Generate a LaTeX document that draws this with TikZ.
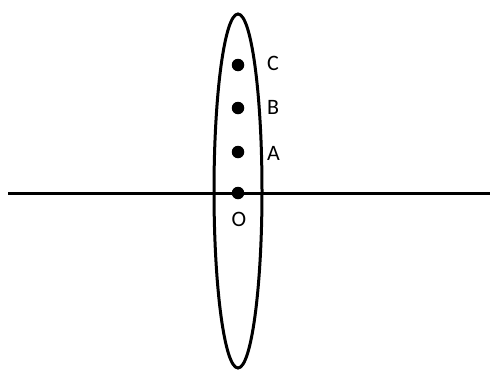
\documentclass[tikz,border=0pt]{standalone}
\usepackage{fontspec}
\setmainfont{Carlito}
\usetikzlibrary{shapes.geometric}
\begin{document}
\begin{tikzpicture}[x=1pt,y=-1pt,
  dot/.style={circle,fill=black,inner sep=0pt,minimum size=12.5pt},
  lbl/.style={font=\fontsize{22}{22}\selectfont,inner sep=0pt}]
\useasboundingbox (0,0) rectangle (490,370);
\node[draw,ellipse,line width=3pt,minimum width=48pt,minimum height=354pt,inner sep=0pt] (lens) at (238,191) {};
\coordinate (L) at (8,193);
\coordinate (R) at (490,193);
\draw[line width=3pt] (L) -- (R);
\node[dot] (C) at (238,65) {};
\node[dot] (B) at (238,108) {};
\node[dot] (A) at (238,152) {};
\node[dot] (O) at (238,193) {};
\node[lbl,anchor=west] (lc) at (267,63) {C};
\node[lbl,anchor=west] (lb) at (267,107) {B};
\node[lbl,anchor=west] (la) at (267,153) {A};
\node[lbl] (lo) at (239,219) {O};
\end{tikzpicture}
\end{document}
